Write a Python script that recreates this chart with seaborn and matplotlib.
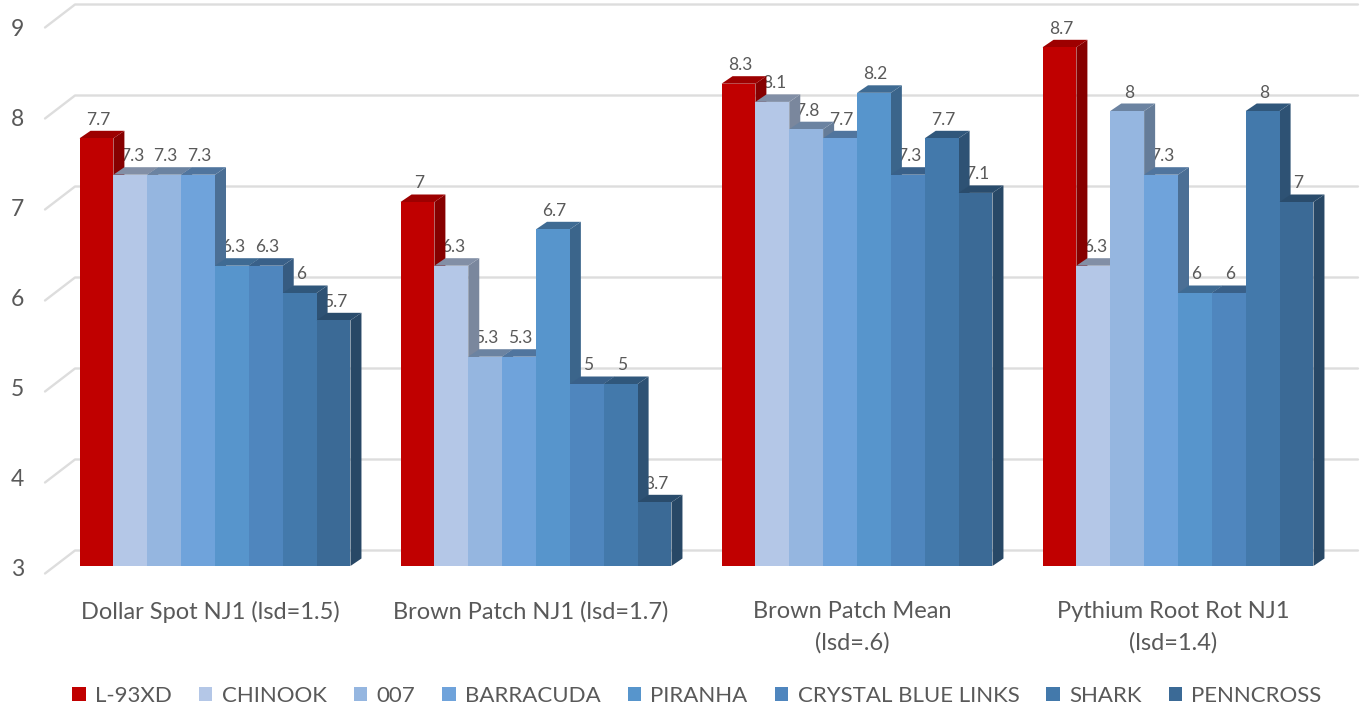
import matplotlib
matplotlib.use("Agg")
import matplotlib.pyplot as plt
import matplotlib.patches as mp
from matplotlib.colors import to_rgb
from matplotlib.transforms import ScaledTranslation
import pandas as pd
import seaborn as sns

categories = ["Dollar Spot NJ1 (lsd=1.5)", "Brown Patch NJ1 (lsd=1.7)",
              "Brown Patch Mean\n(lsd=.6)", "Pythium Root Rot NJ1\n(lsd=1.4)"]
series = ["L-93XD", "CHINOOK", "007", "BARRACUDA", "PIRANHA",
          "CRYSTAL BLUE LINKS", "SHARK", "PENNCROSS"]
l93xd = [7.7, 7, 8.3, 8.7]
chinook = [7.3, 6.3, 8.1, 6.3]
s007 = [7.3, 5.3, 7.8, 8]
barracuda = [7.3, 5.3, 7.7, 7.3]
piranha = [6.3, 6.7, 8.2, 6]
crystal = [6.3, 5, 7.3, 6]
shark = [6, 5, 7.7, 8]
penncross = [5.7, 3.7, 7.1, 7]
colors = ["#C00000", "#B4C7E7", "#95B6E0", "#6FA3DB", "#5795CC", "#4F86BE", "#4379AB", "#3B6A96"]
yticks = [3, 4, 5, 6, 7, 8, 9]

W, H = 1367, 713
sns.set_theme(style="white")
plt.rcParams["font.family"] = ["Lato", "DejaVu Sans"]
text_col = "#595959"

fig = plt.figure(figsize=(W / 100, H / 100), dpi=100, facecolor="white")
L, R, BASE = 54.5, 1338.5, 566
ax = fig.add_axes([L / W, (H - BASE) / H, (R - L) / W, BASE / H])

rows = []
for name, vals in zip(series, [l93xd, chinook, s007, barracuda, piranha, crystal, shark, penncross]):
    for c, v in zip(categories, vals):
        rows.append({"category": c, "variety": name, "value": v})
df = pd.DataFrame(rows)

sns.barplot(data=df, x="category", y="value", hue="variety", order=categories, hue_order=series,
            palette=dict(zip(series, colors)), width=0.844, gap=0, saturation=1,
            legend=False, ax=ax, linewidth=0)

PXX = (R - L) / 4
ax.set_xlim(-0.5, 3.5)
PXY = 91.0
ax.set_ylim(3, 3 + BASE / PXY)
ax.set_xlabel("")
ax.set_ylabel("")
for s in ax.spines.values():
    s.set_visible(False)

px = lambda p: (p - L) / PXX - 0.5
# back wall + floor edge of each gridline
for v in yticks:
    ax.plot([px(45), px(75), px(1358)],
            [v - 7.5 / PXY, v + 15.5 / PXY, v + 15.5 / PXY],
            color="#DDDDDD", lw=1.7, clip_on=False, zorder=0.5, solid_joinstyle="round")

dx, dy = 11 / PXX, 7.5 / PXY


def darker(c, f):
    return tuple(x * f for x in to_rgb(c))


bars = [p for p in ax.patches if p.get_height() > 0]
for i, p in enumerate(bars):
    x0, w, v = p.get_x(), p.get_width(), p.get_height()
    col = p.get_facecolor()[:3]
    z = 2 + i * 0.01
    p.set_zorder(z + 0.002)
    is_red = col[1] < 0.05
    side = darker(col, 0.7 if is_red else 0.68)
    top = darker(col, 0.82 if is_red else 0.72)
    ax.add_patch(mp.Polygon([(x0 + w, 3), (x0 + w + dx, 3 + dy), (x0 + w + dx, v + dy), (x0 + w, v)],
                            closed=True, fc=side, ec="none", zorder=z))
    ax.add_patch(mp.Polygon([(x0, v), (x0 + w, v), (x0 + w + dx, v + dy), (x0 + dx, v + dy)],
                            closed=True, fc=top, ec="none", zorder=z + 0.001))
    lab = f"{v:g}"
    ax.text(x0 + w / 2 + 1.5 / PXX, v + 18.5 / PXY, lab, ha="center", va="center",
            fontsize=12.5, color=text_col, zorder=1.5)

ax.set_yticks(yticks)
ax.set_yticklabels([str(v) for v in yticks])
ax.tick_params(axis="y", length=0, pad=22, labelsize=16.5, labelcolor=text_col)
for v, t in zip(yticks, ax.get_yticklabels()):
    shift = 2 + (v - 3) * 5 / 6
    t.set_transform(t.get_transform() + ScaledTranslation(0, -shift / 100, fig.dpi_scale_trans))

ax.set_xticks(range(4))
ax.set_xticklabels(categories)
ax.tick_params(axis="x", length=0, pad=25, labelsize=17, labelcolor=text_col)
for t in ax.get_xticklabels():
    t.set_transform(t.get_transform() + ScaledTranslation(-5 / 100, 0, fig.dpi_scale_trans))
    t.set_linespacing(1.6)

handles = [mp.Patch(fc=c, ec="none", label=s) for c, s in zip(colors, series)]
fig.legend(handles=handles, loc="center", bbox_to_anchor=(697 / W, 1 - 696 / H), ncol=8,
           frameon=False, fontsize=16, labelcolor=text_col, handlelength=0.6, handleheight=0.6,
           handletextpad=0.42, columnspacing=1.22, borderpad=0, borderaxespad=0)

fig.savefig("out.png", dpi=100, facecolor="white")
